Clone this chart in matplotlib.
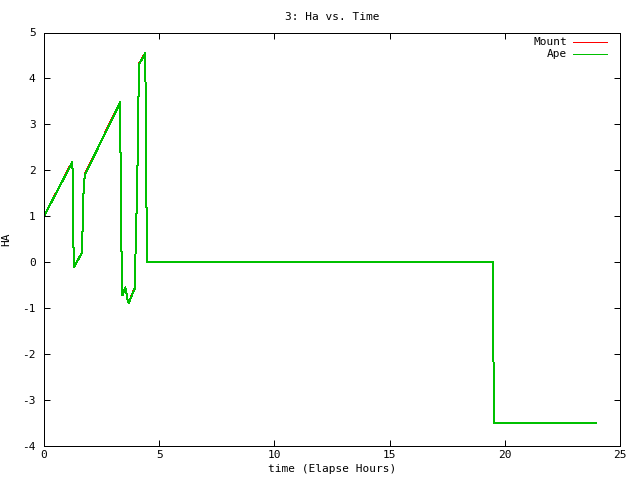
import matplotlib
matplotlib.use("Agg")
import matplotlib.pyplot as plt
from matplotlib.lines import Line2D

# elapsed hours vs HA
time = [0.00, 1.23, 1.26, 1.26, 1.27, 1.31, 1.66, 1.67, 1.71, 1.77,
        3.31, 3.32, 3.36, 3.40, 3.45, 3.52, 3.57, 3.60, 3.68, 3.94,
        3.96, 4.01, 4.06, 4.10, 4.14, 4.40, 4.41, 4.45, 4.48,
        19.49, 19.50, 19.54, 23.96]
mount = [1.00, 2.19, 1.60, 0.48, 0.48, -0.10, 0.22, 0.64, 1.47, 1.91,
         3.49, 2.41, 0.33, -0.72, -0.66, -0.55, -0.62, -0.79, -0.88, -0.56,
         -0.05, 0.95, 2.15, 3.58, 4.33, 4.56, 3.41, 1.13, 0.00,
         0.00, -1.75, -3.51, -3.51]
ape = [1.00, 2.18, 1.60, 0.48, 0.48, -0.10, 0.22, 0.64, 1.47, 1.90,
       3.48, 2.41, 0.33, -0.72, -0.66, -0.55, -0.62, -0.79, -0.88, -0.57,
       -0.05, 0.95, 2.15, 3.58, 4.32, 4.55, 3.41, 1.13, 0.00,
       0.00, -1.75, -3.51, -3.51]

xticks = [0, 5, 10, 15, 20, 25]
yticks = [-4, -3, -2, -1, 0, 1, 2, 3, 4, 5]

plt.rcParams['font.family'] = ['DejaVu Sans Mono']
plt.rcParams['font.size'] = 8

fig = plt.figure(figsize=(6.4, 4.8), dpi=100)
ax = fig.add_axes([44 / 640, 1 - 446 / 480, 576 / 640, 413.5 / 480])

lw = 0.72  # one pixel at 100 dpi
ax.plot(time, mount, color='#ff0000', linewidth=lw, antialiased=False)
ax.plot(time, ape, color='#00c000', linewidth=lw, antialiased=False)

ax.set_xlim(0, 25)
ax.set_ylim(-4, 5)
ax.set_xticks(xticks)
ax.set_yticks(yticks)
ax.set_yticklabels([str(v) for v in yticks])
ax.tick_params(direction='in', length=4, width=lw, top=True, right=True)
ax.tick_params(axis='y', pad=6)
ax.tick_params(axis='x', pad=3)
for s in ax.spines.values():
    s.set_linewidth(lw)
    s.set_antialiased(False)

ax.set_title('3: Ha vs. Time', fontsize=8, pad=9)
ax.set_xlabel('time (Elapse Hours)', labelpad=3)
ax.set_ylabel('HA', labelpad=8)

# gnuplot-style key: right-aligned text, sample line after it
for i, (name, col) in enumerate([('Mount', '#ff0000'), ('Ape', '#00c000')]):
    y = 0.977 - i * 0.029
    ax.text(0.908, y, name, transform=ax.transAxes, ha='right', va='center')
    ax.add_line(Line2D([0.918, 0.977], [y, y], transform=ax.transAxes,
                       color=col, linewidth=lw, antialiased=False))

fig.savefig('out.png', dpi=100)
